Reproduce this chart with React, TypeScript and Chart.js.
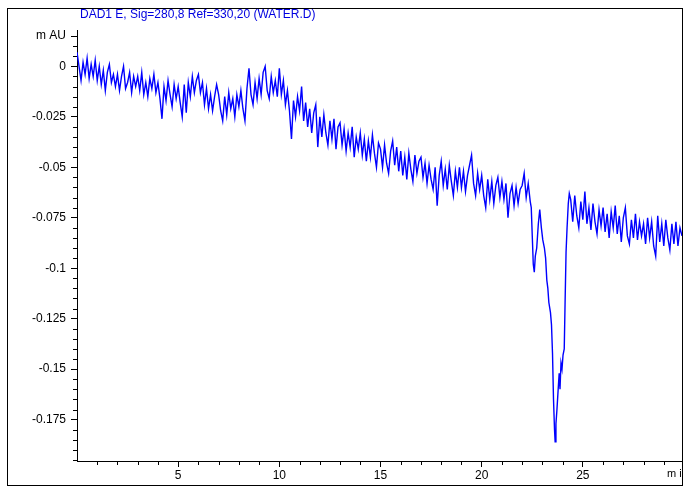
import React, { useEffect, useRef } from 'react';
import { Chart, registerables } from 'chart.js';

Chart.register(...registerables);

const TITLE = 'DAD1 E, Sig=280,8 Ref=330,20 (WATER.D)';
const X_UNIT = 'm in';

const xTickValues = [5, 10, 15, 20, 25];
const yTickValues = [-0.175, -0.15, -0.125, -0.1, -0.075, -0.05, -0.025, 0, 0.015];
const yTickLabels = ['-0.175', '-0.15', '-0.125', '-0.1', '-0.075', '-0.05', '-0.025', '0', 'm AU'];

// baseline signal, 0.0 – 22.4 min, every 0.1 min
const startA = 0;
const sampleStep = 0.1;
const signalA = [
  0.007, 0.000, -0.007, 0.002, -0.004, 0.004, -0.006, 0.001, -0.005, 0.003,
  -0.007, 0.000, -0.009, -0.002, -0.012, -0.003, 0.001, -0.008, -0.004, -0.010,
  -0.004, -0.012, -0.005, 0.000, -0.011, -0.008, -0.003, -0.013, -0.005, -0.010,
  -0.005, -0.012, -0.003, -0.014, -0.008, -0.015, -0.006, -0.011, -0.004, -0.013,
  -0.008, -0.016, -0.026, -0.010, -0.017, -0.007, -0.014, -0.020, -0.009, -0.016,
  -0.010, -0.018, -0.025, -0.009, -0.023, -0.008, -0.015, -0.005, -0.013, -0.007,
  -0.004, -0.013, -0.008, -0.019, -0.011, -0.021, -0.014, -0.022, -0.015, -0.009,
  -0.014, -0.022, -0.027, -0.015, -0.024, -0.013, -0.021, -0.016, -0.025, -0.014,
  -0.020, -0.012, -0.021, -0.027, -0.011, -0.001, -0.014, -0.019, -0.008, -0.016,
  -0.006, -0.014, -0.003, 0.000, -0.012, -0.016, -0.005, -0.013, -0.007, -0.015,
  -0.001, -0.014, -0.007, -0.019, -0.012, -0.022, -0.036, -0.017, -0.025, -0.015,
  -0.022, -0.010, -0.027, -0.018, -0.030, -0.021, -0.033, -0.023, -0.019, -0.040,
  -0.025, -0.035, -0.024, -0.033, -0.039, -0.027, -0.036, -0.026, -0.041, -0.030,
  -0.028, -0.039, -0.031, -0.042, -0.033, -0.040, -0.030, -0.045, -0.035, -0.041,
  -0.033, -0.044, -0.036, -0.047, -0.037, -0.045, -0.034, -0.043, -0.050, -0.038,
  -0.041, -0.050, -0.039, -0.048, -0.053, -0.042, -0.037, -0.049, -0.040, -0.052,
  -0.042, -0.054, -0.045, -0.056, -0.043, -0.051, -0.057, -0.044, -0.053, -0.047,
  -0.045, -0.055, -0.048, -0.058, -0.049, -0.056, -0.061, -0.050, -0.069, -0.054,
  -0.047, -0.059, -0.051, -0.061, -0.049, -0.057, -0.064, -0.052, -0.060, -0.050,
  -0.060, -0.052, -0.062, -0.054, -0.049, -0.044, -0.058, -0.064, -0.053, -0.061,
  -0.054, -0.064, -0.070, -0.056, -0.066, -0.057, -0.068, -0.059, -0.055, -0.065,
  -0.057, -0.066, -0.058, -0.075, -0.063, -0.059, -0.069, -0.060, -0.068, -0.061,
  -0.059, -0.053, -0.065, -0.058, -0.067,
];

// negative peak region
const peakTimes = [
  22.45, 22.5, 22.55, 22.6, 22.65, 22.72, 22.8, 22.87, 22.95, 23.02,
  23.1, 23.16, 23.22, 23.27, 23.32, 23.4, 23.45, 23.5, 23.55, 23.6,
  23.63, 23.67, 23.72, 23.78, 23.83, 23.87, 23.92, 23.97, 24.02, 24.08,
  24.12, 24.17, 24.22, 24.28, 24.33,
];
const peakValues = [
  -0.070, -0.084, -0.098, -0.102, -0.094, -0.090, -0.078, -0.071, -0.080, -0.086,
  -0.090, -0.095, -0.106, -0.110, -0.117, -0.122, -0.128, -0.142, -0.165, -0.180,
  -0.186, -0.177, -0.170, -0.160, -0.152, -0.160, -0.147, -0.150, -0.143, -0.140,
  -0.118, -0.092, -0.080, -0.068, -0.063,
];

// baseline after the peak, 24.4 – 29.9 min, every 0.1 min
const startB = 24.4;
const signalB = [
  -0.066, -0.077, -0.064, -0.074, -0.080, -0.067, -0.076, -0.062, -0.078, -0.070,
  -0.081, -0.068, -0.077, -0.083, -0.071, -0.079, -0.070, -0.082, -0.073, -0.085,
  -0.072, -0.080, -0.069, -0.083, -0.074, -0.087, -0.075, -0.070, -0.084, -0.088,
  -0.076, -0.085, -0.073, -0.086, -0.077, -0.084, -0.078, -0.088, -0.075, -0.085,
  -0.077, -0.089, -0.094, -0.074, -0.087, -0.078, -0.089, -0.076, -0.085, -0.091,
  -0.078, -0.088, -0.077, -0.089, -0.080, -0.084,
];

const FONT = "'Liberation Sans', Arial, sans-serif";

const decorPlugin = {
  id: 'decor',
  afterDraw(chart: any) {
    const ctx = chart.ctx;
    const xs = chart.scales.x;
    const ys = chart.scales.y;
    const area = chart.chartArea;
    ctx.save();
    ctx.strokeStyle = '#000';
    ctx.lineWidth = 1;
    ctx.beginPath();
    for (let m = 1; m < 30; m++) {
      if (m % 5 === 0) continue;
      const px = Math.round(xs.getPixelForValue(m)) + 0.5;
      ctx.moveTo(px, area.bottom);
      ctx.lineTo(px, area.bottom + 4);
    }
    for (let k = -39; k <= 3; k++) {
      if (k % 5 === 0 || k === 3) continue;
      const py = Math.round(ys.getPixelForValue(k * 0.005)) + 0.5;
      ctx.moveTo(area.left, py);
      ctx.lineTo(area.left - 4, py);
    }
    ctx.stroke();

    ctx.fillStyle = '#0000e0';
    ctx.font = `12px ${FONT}`;
    ctx.textBaseline = 'middle';
    ctx.textAlign = 'left';
    ctx.fillText(TITLE, 80, 15);

    ctx.save();
    ctx.beginPath();
    ctx.rect(0, 0, 682, 488);
    ctx.clip();
    ctx.fillStyle = '#000';
    ctx.font = `11px ${FONT}`;
    ctx.fillText(X_UNIT, 667, 474);
    ctx.restore();

    ctx.strokeStyle = '#000';
    ctx.strokeRect(7.5, 8.5, 675, 477);
    ctx.restore();
  },
};

export default function App() {
  const ref = useRef<HTMLCanvasElement>(null);
  useEffect(() => {
    const points = [
      ...signalA.map((v, i) => ({ x: +(startA + i * sampleStep).toFixed(2), y: v })),
      ...peakTimes.map((t, i) => ({ x: t, y: peakValues[i] })),
      ...signalB.map((v, i) => ({ x: +(startB + i * sampleStep).toFixed(2), y: v })),
    ];
    const chart = new Chart(ref.current!, {
      type: 'line',
      data: {
        datasets: [
          {
            data: points,
            borderColor: '#0000ff',
            borderWidth: 1.4,
            pointRadius: 0,
            tension: 0,
            fill: false,
          },
        ],
      },
      options: {
        animation: false,
        responsive: false,
        devicePixelRatio: 1,
        layout: { padding: { left: 0, top: 30, right: 8, bottom: 0 } },
        plugins: { legend: { display: false }, tooltip: { enabled: false }, title: { display: false } },
        scales: {
          x: {
            type: 'linear',
            min: 0,
            max: 29.9,
            afterBuildTicks: (s: any) => {
              s.ticks = xTickValues.map((v) => ({ value: v }));
            },
            afterFit: (s: any) => {
              s.height = 27;
            },
            ticks: {
              autoSkip: false,
              maxRotation: 0,
              padding: 1,
              color: '#000',
              font: { family: FONT, size: 12 },
              callback: (v: any) => String(v),
            },
            grid: { drawOnChartArea: false, drawTicks: true, tickLength: 6, color: '#000', lineWidth: 1 },
            border: { display: true, color: '#000', width: 1 },
          },
          y: {
            type: 'linear',
            min: -0.1955,
            max: 0.018,
            afterBuildTicks: (s: any) => {
              s.ticks = yTickValues.map((v) => ({ value: v }));
            },
            afterFit: (s: any) => {
              s.width = 77;
            },
            ticks: {
              autoSkip: false,
              padding: 5,
              color: '#000',
              font: { family: FONT, size: 12 },
              callback: (_v: any, i: number) => yTickLabels[i],
            },
            grid: { drawOnChartArea: false, drawTicks: true, tickLength: 6, color: '#000', lineWidth: 1 },
            border: { display: true, color: '#000', width: 1 },
          },
        },
      },
      plugins: [decorPlugin],
    });
    return () => chart.destroy();
  }, []);
  return (
    <div style={{ position: 'absolute', left: 0, top: 0, width: 690, height: 488, background: '#fff' }}>
      <canvas ref={ref} width={690} height={488} />
    </div>
  );
}
